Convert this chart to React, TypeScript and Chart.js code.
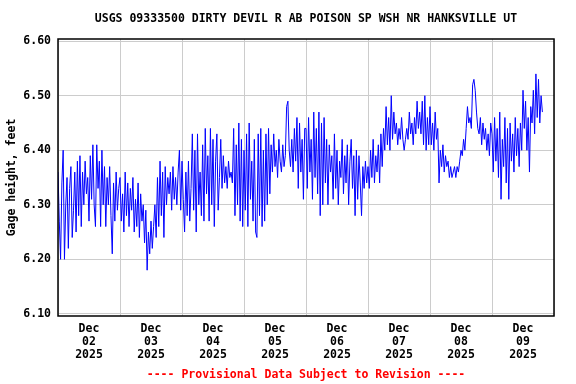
import React, { useEffect, useRef } from "react";
import { Chart, registerables } from "chart.js";

Chart.register(...registerables);

const titleText = "USGS 09333500 DIRTY DEVIL R AB POISON SP WSH NR HANKSVILLE UT";
const footerText = "---- Provisional Data Subject to Revision ----";
const yAxisTitle = "Gage height, feet";
const monthLabel = "Dec";
const yearLabel = "2025";
const dayLabels = ["02", "03", "04", "05", "06", "07", "08", "09"];
const yTicks = [6.1, 6.2, 6.3, 6.4, 6.5, 6.6];

// half-hourly gage height (ft), starting Dec 02 00:00
const dec02 = [
  6.36, 6.27, 6.20, 6.34, 6.40, 6.20, 6.30, 6.35, 6.22, 6.33,
  6.37, 6.24, 6.29, 6.36, 6.25, 6.38, 6.28, 6.39, 6.26, 6.36,
  6.30, 6.38, 6.32, 6.35, 6.27, 6.39, 6.31, 6.41, 6.30, 6.26,
  6.41, 6.33, 6.38, 6.26, 6.40, 6.30, 6.37, 6.26, 6.35, 6.30,
  6.37, 6.28, 6.21, 6.34, 6.27, 6.36, 6.29, 6.33,
];
const dec03 = [
  6.35, 6.27, 6.32, 6.25, 6.36, 6.28, 6.34, 6.26, 6.33, 6.29,
  6.35, 6.25, 6.31, 6.26, 6.34, 6.24, 6.32, 6.27, 6.30, 6.23,
  6.29, 6.18, 6.25, 6.21, 6.27, 6.22, 6.26, 6.30, 6.24, 6.35,
  6.26, 6.38, 6.28, 6.36, 6.24, 6.37, 6.30, 6.35, 6.32, 6.36,
  6.29, 6.37, 6.31, 6.35, 6.30, 6.36, 6.40, 6.29,
];
const dec04 = [
  6.38, 6.31, 6.25, 6.36, 6.28, 6.38, 6.27, 6.33, 6.43, 6.29,
  6.40, 6.25, 6.43, 6.30, 6.36, 6.28, 6.41, 6.27, 6.44, 6.32,
  6.39, 6.27, 6.44, 6.30, 6.42, 6.26, 6.38, 6.43, 6.29, 6.35,
  6.42, 6.33, 6.39, 6.34, 6.37, 6.33, 6.38, 6.35, 6.36, 6.34,
  6.44, 6.28, 6.41, 6.30, 6.45, 6.27, 6.42, 6.26,
];
const dec05 = [
  6.40, 6.29, 6.43, 6.26, 6.45, 6.31, 6.38, 6.27, 6.42, 6.25,
  6.24, 6.43, 6.28, 6.44, 6.26, 6.40, 6.27, 6.43, 6.30, 6.44,
  6.32, 6.41, 6.36, 6.43, 6.37, 6.40, 6.35, 6.42, 6.38, 6.36,
  6.41, 6.37, 6.39, 6.48, 6.49, 6.40, 6.37, 6.42, 6.36, 6.44,
  6.38, 6.46, 6.33, 6.45, 6.36, 6.42, 6.31, 6.44,
];
const dec06 = [
  6.44, 6.33, 6.46, 6.36, 6.42, 6.31, 6.47, 6.35, 6.44, 6.32,
  6.47, 6.28, 6.45, 6.30, 6.46, 6.34, 6.42, 6.30, 6.41, 6.36,
  6.39, 6.31, 6.43, 6.33, 6.40, 6.30, 6.38, 6.35, 6.42, 6.32,
  6.39, 6.34, 6.41, 6.30, 6.38, 6.42, 6.33, 6.39, 6.28, 6.40,
  6.31, 6.39, 6.34, 6.28, 6.37, 6.33, 6.38, 6.34,
];
const dec07 = [
  6.37, 6.33, 6.40, 6.35, 6.42, 6.34, 6.39, 6.36, 6.41, 6.34,
  6.43, 6.37, 6.44, 6.40, 6.48, 6.41, 6.46, 6.40, 6.50, 6.42,
  6.47, 6.43, 6.45, 6.41, 6.44, 6.42, 6.46, 6.42, 6.40, 6.42,
  6.44, 6.42, 6.47, 6.43, 6.45, 6.41, 6.46, 6.43, 6.49, 6.44,
  6.47, 6.43, 6.49, 6.41, 6.50, 6.40, 6.46, 6.41,
];
const dec08 = [
  6.48, 6.41, 6.45, 6.40, 6.47, 6.42, 6.44, 6.34, 6.40, 6.37,
  6.41, 6.36, 6.39, 6.37, 6.38, 6.35, 6.37, 6.35, 6.36, 6.37,
  6.35, 6.37, 6.36, 6.38, 6.40, 6.39, 6.42, 6.40, 6.44, 6.48,
  6.45, 6.46, 6.44, 6.52, 6.53, 6.51, 6.47, 6.44, 6.43, 6.46,
  6.41, 6.45, 6.42, 6.44, 6.40, 6.43, 6.39, 6.45,
];
const dec09 = [
  6.43, 6.36, 6.46, 6.38, 6.44, 6.35, 6.47, 6.31, 6.42, 6.37,
  6.46, 6.34, 6.44, 6.31, 6.45, 6.38, 6.43, 6.36, 6.46, 6.39,
  6.44, 6.37, 6.45, 6.40, 6.51, 6.44, 6.49, 6.40, 6.46, 6.36,
  6.48, 6.45, 6.51, 6.43, 6.54, 6.46, 6.53, 6.45, 6.50, 6.47,
];

const FONT = '"DejaVu Sans Mono", monospace';

export default function App() {
  const ref = useRef<HTMLCanvasElement | null>(null);

  useEffect(() => {
    document.body.style.margin = "0";
    const canvas = ref.current;
    if (!canvas) return;
    const values = [...dec02, ...dec03, ...dec04, ...dec05, ...dec06, ...dec07, ...dec08, ...dec09];
    const points = values.map((v, i) => ({ x: i * 0.5, y: v }));

    const textPlugin = {
      id: "usgsText",
      afterDraw(chart: any) {
        const { ctx, chartArea } = chart;
        ctx.save();
        ctx.strokeStyle = "#000";
        ctx.lineWidth = 1.5;
        ctx.strokeRect(chartArea.left, chartArea.top, chartArea.right - chartArea.left, chartArea.bottom - chartArea.top);
        const cx = (chartArea.left + chartArea.right) / 2;
        ctx.font = `bold 11.5px ${FONT}`;
        ctx.textAlign = "center";
        ctx.textBaseline = "middle";
        ctx.fillStyle = "#000";
        ctx.fillText(titleText, cx, 19);
        ctx.fillStyle = "#ff0000";
        ctx.fillText(footerText, cx, 375);
        ctx.restore();
      },
    };

    const chart = new Chart(canvas, {
      type: "line",
      data: {
        datasets: [
          {
            data: points,
            borderColor: "#0000ff",
            borderWidth: 1,
            pointRadius: 0,
            tension: 0,
            fill: false,
          },
        ],
      },
      options: {
        responsive: false,
        animation: false,
        events: [],
        layout: { padding: { left: 0, right: 22, top: 39, bottom: 0 } },
        plugins: { legend: { display: false }, tooltip: { enabled: false }, title: { display: false } },
        scales: {
          x: {
            type: "linear",
            min: 0,
            max: 192,
            afterBuildTicks(scale: any) {
              const t = [];
              for (let h = 0; h <= 192; h += 12) t.push({ value: h });
              scale.ticks = t;
            },
            afterFit(scale: any) {
              scale.height = 68;
            },
            ticks: {
              autoSkip: false,
              maxRotation: 0,
              padding: 7,
              color: "#000",
              font: { family: FONT, size: 11.5, weight: "bold", lineHeight: 1.113 },
              callback(value: any) {
                const v = Number(value);
                if (v % 24 === 12) {
                  const k = (v - 12) / 24;
                  return [monthLabel, dayLabels[k], yearLabel];
                }
                return "";
              },
            },
            grid: {
              drawTicks: false,
              color: (c: any) => (c.tick && c.tick.value % 24 === 0 ? "#cccccc" : "rgba(0,0,0,0)"),
              lineWidth: 1,
            },
            border: { display: false },
          },
          y: {
            type: "linear",
            min: 6.096,
            max: 6.604,
            afterBuildTicks(scale: any) {
              scale.ticks = yTicks.map((v) => ({ value: v }));
            },
            afterFit(scale: any) {
              scale.width = 58;
            },
            ticks: {
              padding: 7,
              color: "#000",
              font: { family: FONT, size: 11.5, weight: "bold" },
              callback: (value: any) => Number(value).toFixed(2),
            },
            grid: { drawTicks: false, color: "#cccccc", lineWidth: 1 },
            border: { display: false },
            title: {
              display: true,
              text: yAxisTitle,
              color: "#000",
              font: { family: FONT, size: 11.5, weight: "bold" },
              padding: { top: 5, bottom: 0 },
            },
          },
        },
      },
      plugins: [textPlugin],
    });
    return () => chart.destroy();
  }, []);

  return (
    <div style={{ position: "absolute", left: 0, top: 0, width: 576, height: 384, background: "#fff" }}>
      <canvas ref={ref} width={576} height={384} />
    </div>
  );
}
